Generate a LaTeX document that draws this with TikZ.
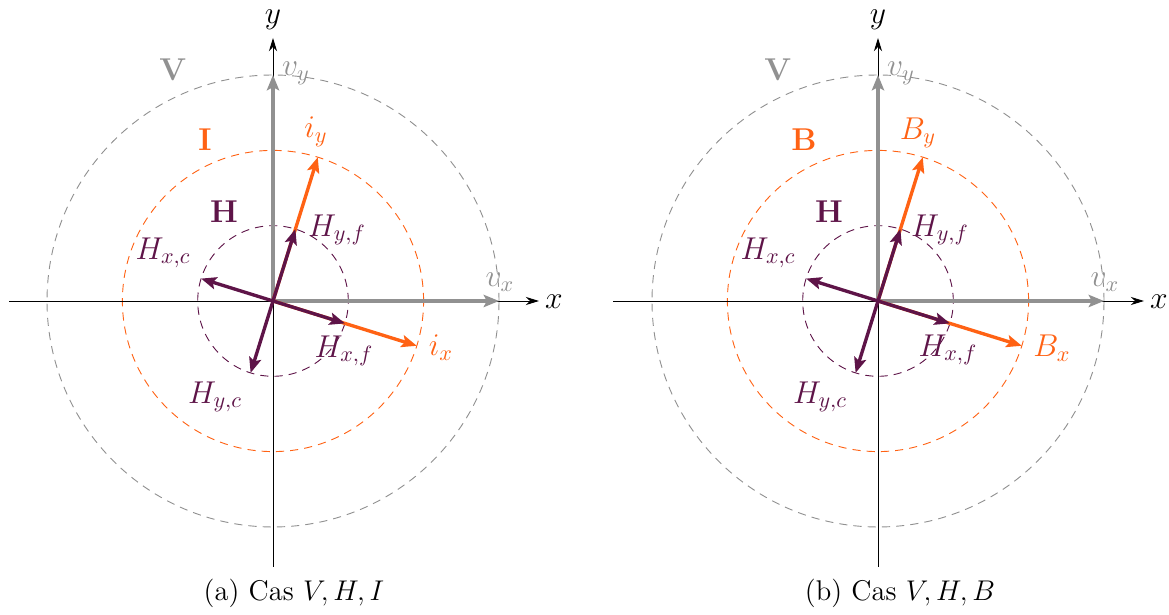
\RequirePackage{fix-cm}
\documentclass[tikz,border=0pt]{standalone}
\usetikzlibrary{arrows.meta}
\definecolor{vgrey}{RGB}{145,145,145}
\definecolor{iorange}{RGB}{255,98,20}
\definecolor{hpurple}{RGB}{94,20,72}
\tikzset{
  axisline/.style={line width=0.45pt, -{Stealth[length=6.5pt,width=4pt]}},
  vecline/.style={line width=1.65pt, -{Stealth[length=7.5pt,width=6pt,inset=1.5pt]}},
  circ/.style={line width=0.45pt, dash pattern=on 4pt off 3pt},
  lbl/.style={font=\fontsize{15.5}{18}\selectfont, inner sep=0pt},
  captext/.style={font=\fontsize{14}{16}\selectfont, inner sep=0pt},
}
\begin{document}
\begin{tikzpicture}[x=0.4911pt,y=0.4911pt]
\useasboundingbox (0,0) rectangle (1169,615);
% ---------------- panel (a) ----------------
\begin{scope}[shift={(273,314)}]
  \coordinate (aO) at (0,0);
  \coordinate (aXs) at (-264,0);  \coordinate (aXe) at (266,0);
  \coordinate (aYs) at (0,-266);  \coordinate (aYe) at (0,263);
  \coordinate (aVx) at (226,0);   \coordinate (aVy) at (0,226);
  \coordinate (aIx) at (-17.3:150.6); \coordinate (aIy) at (72.7:150.6);
  \coordinate (aHxf) at (-17.3:75.3); \coordinate (aHyf) at (72.7:75.3);
  \coordinate (aHxc) at (162.7:75.3); \coordinate (aHyc) at (252.7:75.3);
  \draw[circ, vgrey] (aO) circle [radius=226];
  \draw[circ, iorange] (aO) circle [radius=150.6];
  \draw[circ, hpurple] (aO) circle [radius=75.3];
  \draw[axisline] (aXs) -- (aXe);
  \draw[axisline] (aYs) -- (aYe);
  \draw[vecline, vgrey] (aO) -- (aVx);
  \draw[vecline, vgrey] (aO) -- (aVy);
  \draw[vecline, iorange] (aO) -- (aIx);
  \draw[vecline, iorange] (aO) -- (aIy);
  \draw[vecline, hpurple] (aO) -- (aHxf);
  \draw[vecline, hpurple] (aO) -- (aHyf);
  \draw[vecline, hpurple] (aO) -- (aHxc);
  \draw[vecline, hpurple] (aO) -- (aHyc);
  \node[lbl] (axl) at (281,-1) {$x$};
  \node[lbl] (ayl) at (0,281) {$y$};
  \node[lbl, vgrey] (aVl) at (-100,231) {$\mathbf{V}$};
  \node[lbl, vgrey] (aVyl) at (23,228) {$v_y$};
  \node[lbl, vgrey] (aVxl) at (227,19) {$v_x$};
  \node[lbl, iorange] (aIl) at (-68,161) {$\mathbf{I}$};
  \node[lbl, iorange] (aIyl) at (43,169) {$i_y$};
  \node[lbl, iorange] (aIxl) at (168,-47) {$i_x$};
  \node[lbl, hpurple] (aHl) at (-49,89) {$\mathbf{H}$};
  \node[lbl, hpurple] (aHyfl) at (64,71) {$H_{y,f}$};
  \node[lbl, hpurple] (aHxcl) at (-110,48) {$H_{x,c}$};
  \node[lbl, hpurple] (aHxfl) at (71,-50) {$H_{x,f}$};
  \node[lbl, hpurple] (aHycl) at (-58,-96) {$H_{y,c}$};
  \node[captext] (acap) at (21,-292) {(a) Cas $V, H, I$};
\end{scope}
% ---------------- panel (b) ----------------
\begin{scope}[shift={(878,314)}]
  \coordinate (bO) at (0,0);
  \coordinate (bXs) at (-265,0);  \coordinate (bXe) at (266,0);
  \coordinate (bYs) at (0,-266);  \coordinate (bYe) at (0,263);
  \coordinate (bVx) at (226,0);   \coordinate (bVy) at (0,226);
  \coordinate (bBx) at (-17.3:150.6); \coordinate (bBy) at (72.7:150.6);
  \coordinate (bHxf) at (-17.3:75.3); \coordinate (bHyf) at (72.7:75.3);
  \coordinate (bHxc) at (162.7:75.3); \coordinate (bHyc) at (252.7:75.3);
  \draw[circ, vgrey] (bO) circle [radius=226];
  \draw[circ, iorange] (bO) circle [radius=150.6];
  \draw[circ, hpurple] (bO) circle [radius=75.3];
  \draw[axisline] (bXs) -- (bXe);
  \draw[axisline] (bYs) -- (bYe);
  \draw[vecline, vgrey] (bO) -- (bVx);
  \draw[vecline, vgrey] (bO) -- (bVy);
  \draw[vecline, iorange] (bO) -- (bBx);
  \draw[vecline, iorange] (bO) -- (bBy);
  \draw[vecline, hpurple] (bO) -- (bHxf);
  \draw[vecline, hpurple] (bO) -- (bHyf);
  \draw[vecline, hpurple] (bO) -- (bHxc);
  \draw[vecline, hpurple] (bO) -- (bHyc);
  \node[lbl] (bxl) at (281,-1) {$x$};
  \node[lbl] (byl) at (0,281) {$y$};
  \node[lbl, vgrey] (bVl) at (-100,231) {$\mathbf{V}$};
  \node[lbl, vgrey] (bVyl) at (23,228) {$v_y$};
  \node[lbl, vgrey] (bVxl) at (227,19) {$v_x$};
  \node[lbl, iorange] (bBl) at (-74,161) {$\mathbf{B}$};
  \node[lbl, iorange] (bByl) at (40,168) {$B_y$};
  \node[lbl, iorange] (bBxl) at (174,-47) {$B_x$};
  \node[lbl, hpurple] (bHl) at (-49,89) {$\mathbf{H}$};
  \node[lbl, hpurple] (bHyfl) at (62,71) {$H_{y,f}$};
  \node[lbl, hpurple] (bHxcl) at (-110,48) {$H_{x,c}$};
  \node[lbl, hpurple] (bHxfl) at (70,-49) {$H_{x,f}$};
  \node[lbl, hpurple] (bHycl) at (-58,-96) {$H_{y,c}$};
  \node[captext] (bcap) at (22,-292) {(b) Cas $V, H, B$};
\end{scope}
\end{tikzpicture}
\end{document}
